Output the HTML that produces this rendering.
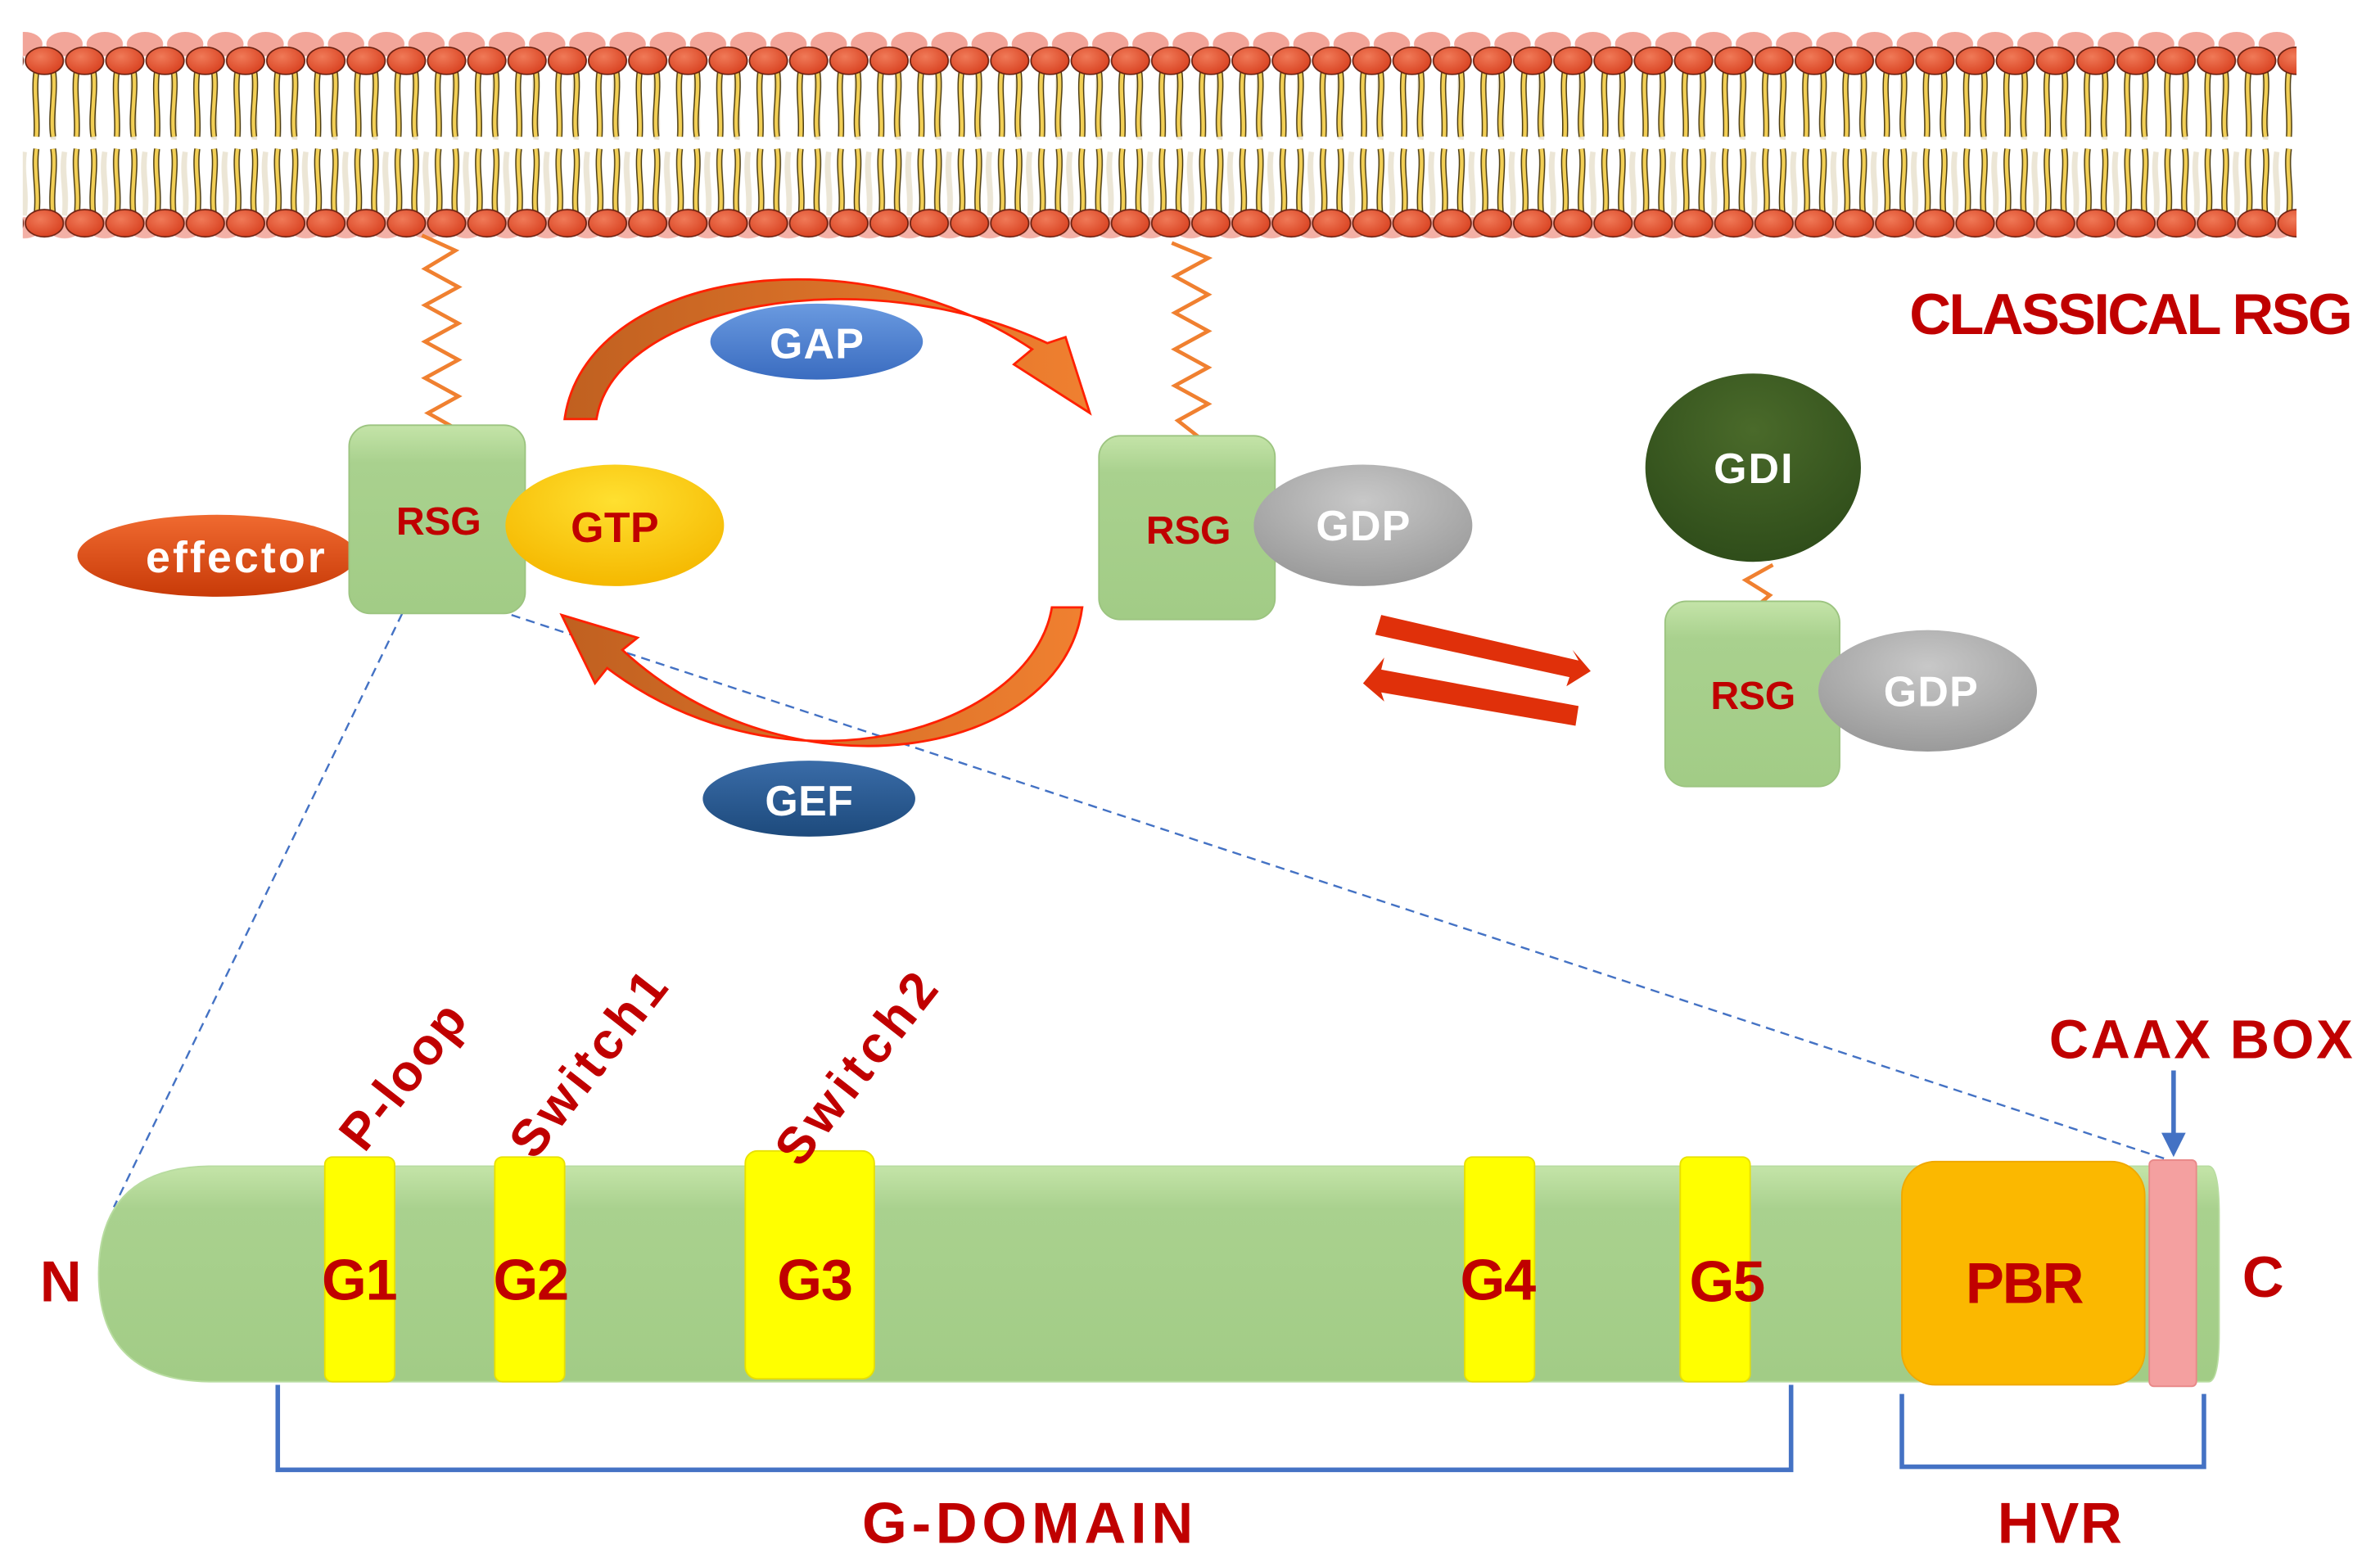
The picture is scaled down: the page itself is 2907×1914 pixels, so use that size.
<!DOCTYPE html>
<html><head><meta charset="utf-8"><style>
html,body{margin:0;padding:0;background:#fff;width:2907px;height:1914px;overflow:hidden}
svg{display:block}
text{font-family:"Liberation Sans",sans-serif;font-weight:bold}
</style></head><body>
<svg width="2907" height="1914" viewBox="0 0 1568 1032" preserveAspectRatio="none" xmlns="http://www.w3.org/2000/svg">
<defs>
<radialGradient id="head" cx="0.4" cy="0.35" r="0.7"><stop offset="0" stop-color="#f07a58"/><stop offset="1" stop-color="#d8401f"/></radialGradient>
<pattern id="mem" x="16" y="0" width="26.5" height="170" patternUnits="userSpaceOnUse">
<ellipse cx="26.5" cy="29" rx="12" ry="8" fill="#ef8f80" opacity="0.8"/>
<ellipse cx="0" cy="29" rx="12" ry="8" fill="#ef8f80" opacity="0.8"/>
<ellipse cx="26.5" cy="150" rx="11" ry="7" fill="#ef8f80" opacity="0.7"/>
<ellipse cx="0" cy="150" rx="11" ry="7" fill="#ef8f80" opacity="0.7"/>
<path d="M19 48 C17 62,21 76,19 92 M26.5 100 C24 115,28 125,26.5 142 M0 100 C-2 115,2 125,0 142" stroke="#ece6d6" stroke-width="3.5" fill="none"/>
<g stroke="#4a3a10" stroke-width="4" fill="none">
<path d="M8 47 C6 60,9 75,8 90 M19 47 C21 60,17 75,19 90"/>
<path d="M8 98 C6 112,10 126,8 142 M19 98 C21 112,17 126,19 142"/>
</g>
<g stroke="#f2cf55" stroke-width="2.4" fill="none">
<path d="M8 47 C6 60,9 75,8 90 M19 47 C21 60,17 75,19 90"/>
<path d="M8 98 C6 112,10 126,8 142 M19 98 C21 112,17 126,19 142"/>
</g>
<ellipse cx="13.25" cy="40" rx="12.5" ry="9" fill="url(#head)" stroke="#6a2010" stroke-width="0.9"/>
<ellipse cx="13.25" cy="147" rx="12.5" ry="9" fill="url(#head)" stroke="#6a2010" stroke-width="0.9"/>
</pattern>
<linearGradient id="green" x1="0" y1="0" x2="0" y2="1"><stop offset="0" stop-color="#c4e4a8"/><stop offset="0.2" stop-color="#a9d18e"/><stop offset="1" stop-color="#a2cc86"/></linearGradient>
<radialGradient id="gtp" cx="0.5" cy="0.3" r="0.7"><stop offset="0" stop-color="#ffe030"/><stop offset="1" stop-color="#f5b800"/></radialGradient>
<radialGradient id="gdp" cx="0.5" cy="0.3" r="0.7"><stop offset="0" stop-color="#c8c8c8"/><stop offset="1" stop-color="#9a9a9a"/></radialGradient>
<radialGradient id="gdi" cx="0.5" cy="0.3" r="0.7"><stop offset="0" stop-color="#4a6a2a"/><stop offset="1" stop-color="#2f4d1a"/></radialGradient>
<linearGradient id="eff" x1="0" y1="0" x2="0" y2="1"><stop offset="0" stop-color="#f06a30"/><stop offset="1" stop-color="#c83a08"/></linearGradient>
<linearGradient id="gap" x1="0" y1="0" x2="0" y2="1"><stop offset="0" stop-color="#6a9ae0"/><stop offset="1" stop-color="#3a6cc0"/></linearGradient>
<linearGradient id="gef" x1="0" y1="0" x2="0" y2="1"><stop offset="0" stop-color="#3a6ca8"/><stop offset="1" stop-color="#1d4a7c"/></linearGradient>
<linearGradient id="arc" x1="0" y1="0" x2="1" y2="0"><stop offset="0" stop-color="#c06020"/><stop offset="1" stop-color="#f08030"/></linearGradient>
</defs>
<rect x="15" y="18" width="1498" height="142" fill="url(#mem)"/>

<!-- zigzags -->
<polyline points="278,155 300,165 280,177 302,189 280,201 302,213 280,225 302,237 280,249 302,261 282,272 298,281" fill="none" stroke="#f08030" stroke-width="2.5"/>
<polyline points="772,160 796,170 774,182 796,194 774,206 796,218 774,230 796,242 774,254 796,266 776,277 790,288" fill="none" stroke="#f08030" stroke-width="2.5"/>
<polyline points="1168,372 1150,382 1166,392 1160,397" fill="none" stroke="#f08030" stroke-width="2.5"/>

<!-- dashed lines -->
<line x1="265" y1="404" x2="75" y2="795" stroke="#4472c4" stroke-width="1.3" stroke-dasharray="6,4"/>
<line x1="337" y1="405" x2="1432" y2="765" stroke="#4472c4" stroke-width="1.3" stroke-dasharray="6,4"/>

<!-- arcs -->
<path d="M372 276 C385 180,560 150,680 230 L668 240 L718 272 L702 222 L690 226 C570 170,405 200,393 276 Z" fill="url(#arc)" stroke="#ff2000" stroke-width="1.5"/>
<path d="M713 400 C700 500,520 530,410 428 L420 420 L370 405 L392 450 L400 440 C520 530,680 480,693 400 Z" fill="url(#arc)" stroke="#ff2000" stroke-width="1.5"/>

<ellipse cx="538" cy="225" rx="70" ry="25" fill="url(#gap)"/>
<text x="538" y="236" font-size="28" fill="#fff" text-anchor="middle" textLength="62">GAP</text>
<ellipse cx="533" cy="526" rx="70" ry="25" fill="url(#gef)"/>
<text x="533" y="537" font-size="28" fill="#fff" text-anchor="middle" textLength="58">GEF</text>

<!-- left complex -->
<ellipse cx="143" cy="366" rx="92" ry="27" fill="url(#eff)"/>
<text x="155" y="377" font-size="29" fill="#fff" text-anchor="middle" textLength="118">effector</text>
<rect x="230" y="280" width="116" height="124" rx="14" fill="url(#green)" stroke="#9cc480"/>
<ellipse cx="405" cy="346" rx="72" ry="40" fill="url(#gtp)"/>
<text x="289" y="352" font-size="26" fill="#c00000" text-anchor="middle" textLength="56">RSG</text>
<text x="405" y="357" font-size="28" fill="#c00000" text-anchor="middle" textLength="58">GTP</text>

<!-- middle -->
<rect x="724" y="287" width="116" height="121" rx="14" fill="url(#green)" stroke="#9cc480"/>
<ellipse cx="898" cy="346" rx="72" ry="40" fill="url(#gdp)"/>
<text x="783" y="358" font-size="26" fill="#c00000" text-anchor="middle" textLength="56">RSG</text>
<text x="898" y="356" font-size="28" fill="#fff" text-anchor="middle" textLength="62">GDP</text>

<!-- double arrows -->
<polygon points="910,405 1040,435 1036,428 1048,442 1032,452 1034,446 906,418" fill="#e0300a"/>
<polygon points="1038,478 910,456 912,462 898,450 912,433 910,441 1040,465" fill="#e0300a"/>

<!-- right -->
<ellipse cx="1155" cy="308" rx="71" ry="62" fill="url(#gdi)"/>
<text x="1155" y="318" font-size="28" fill="#fff" text-anchor="middle" textLength="52">GDI</text>
<rect x="1097" y="396" width="115" height="122" rx="14" fill="url(#green)" stroke="#9cc480"/>
<ellipse cx="1270" cy="455" rx="72" ry="40" fill="url(#gdp)"/>
<text x="1155" y="467" font-size="26" fill="#c00000" text-anchor="middle" textLength="56">RSG</text>
<text x="1272" y="465" font-size="28" fill="#fff" text-anchor="middle" textLength="62">GDP</text>

<text x="1258" y="220" font-size="38" fill="#c00000" textLength="292">CLASSICAL RSG</text>

<!-- bar -->
<path d="M140 768 L1455 768 Q1462 768 1462 800 L1462 878 Q1462 910 1455 910 L140 910 Q65 910 65 839 Q65 768 140 768 Z" fill="url(#green)" stroke="#b8dca0"/>
<g fill="#ffff00" stroke="#e8e000">
<rect x="214" y="762" width="46" height="148" rx="5"/>
<rect x="326" y="762" width="46" height="148" rx="5"/>
<rect x="491" y="758" width="85" height="150" rx="8"/>
<rect x="965" y="762" width="46" height="148" rx="5"/>
<rect x="1107" y="762" width="46" height="148" rx="5"/>
</g>
<rect x="1253" y="765" width="160" height="147" rx="22" fill="#fbb800" stroke="#f0a800"/>
<rect x="1416" y="764" width="31" height="149" rx="3" fill="#f4a0a0" stroke="#e88888"/>
<g font-size="38" fill="#c00000" text-anchor="middle">
<text x="237" y="856" textLength="50">G1</text>
<text x="350" y="856" textLength="50">G2</text>
<text x="537" y="856" textLength="50">G3</text>
<text x="987" y="856" textLength="50">G4</text>
<text x="1138" y="857" textLength="50">G5</text>
<text x="1334" y="858" textLength="78">PBR</text>
<text x="40" y="857" textLength="30">N</text>
<text x="1491" y="854" textLength="24">C</text>
</g>
<g font-size="34" fill="#c00000">
<text transform="translate(240,760) rotate(-52)" textLength="112">P-loop</text>
<text transform="translate(352,765) rotate(-52)" textLength="145">Switch1</text>
<text transform="translate(527,770) rotate(-52)" textLength="150">Switch2</text>
</g>
<text x="1450" y="697" font-size="36" fill="#c00000" text-anchor="middle" textLength="200">CAAX BOX</text>
<line x1="1432" y1="705" x2="1432" y2="748" stroke="#4472c4" stroke-width="3"/>
<polygon points="1424,746 1440,746 1432,762" fill="#4472c4"/>

<polyline points="183,912 183,968 1180,968 1180,912" fill="none" stroke="#4472c4" stroke-width="3"/>
<polyline points="1253,918 1253,966 1452,966 1452,918" fill="none" stroke="#4472c4" stroke-width="3"/>
<text x="677" y="1016" font-size="38" fill="#c00000" text-anchor="middle" textLength="218">G-DOMAIN</text>
<text x="1357" y="1016" font-size="38" fill="#c00000" text-anchor="middle" textLength="82">HVR</text>
</svg>
</body></html>
